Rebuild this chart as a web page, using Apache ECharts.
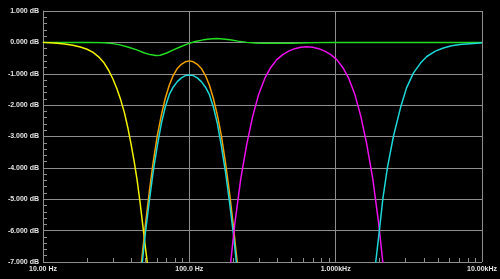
<!DOCTYPE html>
<html>
<head>
<meta charset="utf-8">
<script src="https://cdn.jsdelivr.net/npm/echarts@6/dist/echarts.min.js"></script>
<style>
html,body{margin:0;padding:0;background:#000;}
#chart{width:500px;height:279px;}
</style>
</head>
<body>
<div id="chart"></div>
<script>
// ---- data (frequency in Hz, level in dB) ----
var xTickLabels = {10: '10.00 Hz', 100: '100.0 Hz', 1000: '1.000kHz', 10000: '10.00kHz'};
var xMinorTicks = [20,30,40,50,60,70,80,90,200,300,400,500,600,700,800,900,2000,3000,4000,5000,6000,7000,8000,9000];

var sumGreen = [[10,0],[20,0],[26.5,-0.01],[30,-0.04],[33.6,-0.08],[38,-0.15],[43.7,-0.24],[49,-0.33],[53.9,-0.39],[59,-0.42],[63.3,-0.41],[70,-0.34],[77.8,-0.24],[88,-0.13],[98.5,-0.04],[110,0.03],[124.6,0.08],[138,0.11],[153.8,0.12],[170,0.11],[189.7,0.08],[215,0.04],[247.5,0.0],[280,-0.02],[320,-0.03],[400,-0.03],[500,-0.025],[650,-0.01],[958,0],[10000,0]];

var lowpassYellow = [[10,0],[12,-0.02],[14,-0.05],[16,-0.09],[18,-0.15],[20,-0.22],[22,-0.32],[24,-0.46],[26,-0.64],[28,-0.88],[30,-1.16],[32,-1.48],[34,-1.84],[36,-2.24],[38,-2.72],[40,-3.25],[42,-3.8],[44,-4.4],[46,-5.08],[48,-5.8],[50,-6.5],[52,-7.15],[54,-7.8]];

var bandOrange = [[47.0,-7.05],[50.0,-5.85],[53.3,-4.75],[56.7,-3.8],[60.4,-2.97],[64.4,-2.32],[68.5,-1.78],[73.0,-1.36],[77.7,-1.05],[82.8,-0.83],[88.2,-0.7],[93.9,-0.62],[100,-0.59],[106.5,-0.62],[113.4,-0.7],[120.8,-0.83],[128.6,-1.05],[137.0,-1.36],[145.9,-1.78],[155.4,-2.32],[165.5,-2.97],[176.2,-3.8],[187.7,-4.75],[199.9,-5.85],[212.9,-7.05]];

var bandCyan = [[47.0,-7.3],[50.0,-6.1],[53.3,-5.05],[56.7,-4.1],[60.4,-3.3],[64.4,-2.58],[68.5,-2.06],[73.0,-1.66],[77.7,-1.42],[82.8,-1.25],[88.2,-1.13],[93.9,-1.06],[100,-1.04],[106.5,-1.06],[113.4,-1.13],[120.8,-1.25],[128.6,-1.42],[137.0,-1.66],[145.9,-2.06],[155.4,-2.58],[165.5,-3.3],[176.2,-4.1],[187.7,-5.05],[199.9,-6.1],[212.9,-7.3]];

var bandMagenta = [[185.9,-7.6],[204.3,-5.8],[224.6,-4.35],[246.8,-3.25],[271.2,-2.35],[298.1,-1.65],[327.7,-1.15],[360.1,-0.8],[395.8,-0.55],[435.0,-0.39],[478.0,-0.28],[525.4,-0.2],[577.4,-0.155],[634.6,-0.14],[697.4,-0.155],[766.5,-0.2],[842.5,-0.28],[925.8,-0.39],[1017.5,-0.55],[1118.4,-0.8],[1229.1,-1.15],[1350.9,-1.65],[1484.7,-2.35],[1631.7,-3.25],[1793.4,-4.35],[1971.0,-5.8],[2166.3,-7.6]];

var highpassCyan = [[1800,-7.6],[1879,-7.0],[1989,-6.0],[2099,-5.0],[2256,-4.0],[2480,-3.0],[2786,-2.05],[3050,-1.45],[3396,-0.98],[3800,-0.66],[4195,-0.45],[4800,-0.28],[5447,-0.18],[6200,-0.11],[7080,-0.07],[8300,-0.04],[9707,-0.02],[10000,-0.015]];

// ---- chart ----
var gridColor = '#8e8e8e';
var labelStyle = {color: '#e4e4e4', fontSize: 7, fontWeight: 'bold', fontFamily: 'Liberation Sans'};

function lineSeries(name, data, color) {
  return {
    name: name, type: 'line', data: data, showSymbol: false, symbol: 'none',
    clip: true, lineStyle: {color: color, width: 1.5}, animation: false
  };
}

var chart = echarts.init(document.getElementById('chart'), null, {renderer: 'canvas'});
chart.setOption({
  backgroundColor: '#000000',
  animation: false,
  grid: {left: 43, right: 18, top: 11, bottom: 17, containLabel: false},
  xAxis: [{
    type: 'log', logBase: 10, min: 10, max: 10000,
    axisLine: {show: true, lineStyle: {color: gridColor, width: 1}},
    axisTick: {show: false},
    splitLine: {show: true, lineStyle: {color: gridColor, width: 1}},
    axisLabel: Object.assign({
      margin: 4, showMinLabel: true, showMaxLabel: true,
      formatter: function (v) { return xTickLabels[Math.round(v)] || ''; }
    }, labelStyle)
  }, {
    type: 'log', logBase: 10, min: 10, max: 10000, position: 'bottom',
    axisLine: {show: false},
    axisLabel: {show: false},
    splitLine: {show: false},
    axisTick: {show: true, inside: true, length: 4, customValues: xMinorTicks, lineStyle: {color: gridColor, width: 1}}
  }],
  yAxis: {
    type: 'value', min: -7, max: 1, interval: 1,
    axisLine: {show: true, lineStyle: {color: gridColor, width: 1}},
    axisTick: {show: true, inside: true, length: 4, lineStyle: {color: gridColor}},
    minorTick: {show: true, splitNumber: 5, length: 4, lineStyle: {color: gridColor, width: 1}},
    splitLine: {show: true, lineStyle: {color: gridColor, width: 1}},
    axisLabel: Object.assign({
      margin: 4,
      formatter: function (v) { return v.toFixed(3) + ' dB'; }
    }, labelStyle)
  },
  series: [
    lineSeries('sum', sumGreen, '#22dd22'),
    lineSeries('low', lowpassYellow, '#f2f200'),
    lineSeries('band1', bandOrange, '#f0a000'),
    lineSeries('band2', bandCyan, '#1ed6d6'),
    lineSeries('band3', bandMagenta, '#ec10ec'),
    lineSeries('high', highpassCyan, '#1ed6d6')
  ]
});
</script>
</body>
</html>
